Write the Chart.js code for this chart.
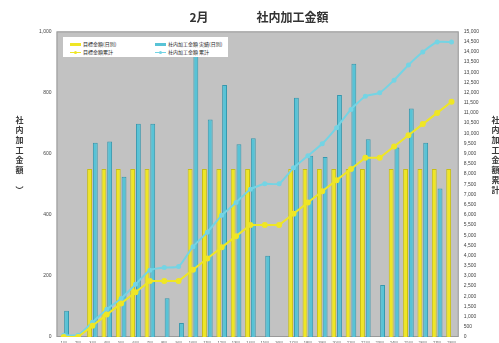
<!DOCTYPE html>
<html>
<head>
<meta charset="utf-8">
<script src="https://cdn.jsdelivr.net/npm/chart.js@4/dist/chart.umd.min.js"></script>
<style>
  html, body { margin: 0; padding: 0; background: #fff; }
  #wrap { position: relative; width: 499px; height: 343px; overflow: hidden; font-family: "Noto Sans CJK JP", sans-serif; }
  #chart { position: absolute; left: 0; top: 0; }
  .vtitle { position: absolute; writing-mode: vertical-rl; font-size: 8px; font-weight: bold; color: #3a3a3a; letter-spacing: 2px; }
  #legend { position: absolute; left: 63px; top: 37px; width: 165px; height: 20px; background: #fff; font-size: 5px; color: #222; }
  #legend .item { position: absolute; white-space: nowrap; line-height: 6px; }
  #legend .sw { display: inline-block; width: 11px; height: 3px; vertical-align: middle; margin-right: 2px; position: relative; }
  #legend .ln { height: 1px; }
  #legend .ln i { position: absolute; left: 4px; top: -1px; width: 3px; height: 3px; border-radius: 50%; }
</style>
</head>
<body>
<div id="wrap">
  <canvas id="chart" width="499" height="343"></canvas>
  <div class="vtitle" style="left: 14px; top: 116px;">社内加工金額　）</div>
  <div class="vtitle" style="left: 490px; top: 116px;">社内加工金額累計</div>
  <div id="legend"></div>
</div>
<script>
const days = ['1日', '2日', '3日', '4日', '5日', '6日', '7日', '8日', '9日', '10日', '11日', '12日', '13日', '14日',
  '15日', '16日', '17日', '18日', '19日', '20日', '21日', '22日', '23日', '24日', '25日', '26日', '27日', '28日'];

// 目標金額(日別)
const target_daily = [0, 0, 550, 550, 550, 550, 550, 0, 0, 550, 550, 550, 550, 550,
  0, 0, 550, 550, 550, 550, 550, 550, 0, 550, 550, 550, 550, 550];

// 社内加工金額 実績(日別)
const actual_daily = [86, 0, 636, 640, 524, 698, 698, 127, 46, 980, 712, 825, 631, 650,
  266, 0, 783, 593, 589, 792, 894, 647, 170, 620, 748, 636, 486, 0];

// 目標金額累計
const target_total = [0, 0, 550, 1100, 1650, 2200, 2750, 2750, 2750, 3300, 3850, 4400, 4950, 5500,
  5500, 5500, 6050, 6600, 7150, 7700, 8250, 8800, 8800, 9350, 9900, 10450, 11000, 11550];

// 社内加工金額 累計
const actual_total = [86, 86, 722, 1362, 1886, 2584, 3282, 3409, 3455, 4435, 5147, 5972, 6603, 7253,
  7519, 7519, 8302, 8895, 9484, 10276, 11170, 11817, 11987, 12607, 13355, 13991, 14477, 14477];

const yellow = '#efe625';
const yellow_edge = '#c8bf14';
const cyan = '#58c3d6';
const cyan_edge = '#3798ae';
const cyan_line = '#74d4e4';

// gray plot background
const plotBg = {
  id: 'plotBg',
  beforeDraw: (chart) => {
    const { ctx, chartArea: a } = chart;
    ctx.save();
    ctx.fillStyle = '#c2c2c2';
    ctx.fillRect(a.left, a.top, a.right - a.left, a.bottom - a.top);
    ctx.strokeStyle = '#9a9a9a';
    ctx.lineWidth = 1;
    ctx.strokeRect(a.left + 0.5, a.top + 0.5, a.right - a.left - 1, a.bottom - a.top - 1);
    ctx.restore();
  }
};

const config = {
  type: 'bar',
  data: {
    labels: days,
    datasets: [
      {
        type: 'line',
        label: '目標金額累計',
        data: target_total,
        yAxisID: 'y2',
        borderColor: yellow,
        backgroundColor: yellow,
        borderWidth: 2,
        pointRadius: 2,
        tension: 0,
        order: 0
      },
      {
        type: 'line',
        label: '社内加工金額 累計',
        data: actual_total,
        yAxisID: 'y2',
        borderColor: cyan_line,
        backgroundColor: cyan_line,
        borderWidth: 2,
        pointRadius: 1.5,
        tension: 0.15,
        order: 0
      },
      {
        label: '目標金額(日別)',
        data: target_daily,
        yAxisID: 'y',
        backgroundColor: yellow,
        borderColor: yellow_edge,
        borderWidth: 1,
        categoryPercentage: 0.8,
        barPercentage: 0.85,
        order: 1
      },
      {
        label: '社内加工金額 実績(日別)',
        data: actual_daily,
        yAxisID: 'y',
        backgroundColor: cyan,
        borderColor: cyan_edge,
        borderWidth: 1,
        categoryPercentage: 0.8,
        barPercentage: 0.85,
        order: 1
      }
    ]
  },
  options: {
    responsive: false,
    animation: false,
    layout: {
      padding: { left: 37, right: 18, top: 0, bottom: -6 }
    },
    plugins: {
      legend: { display: false },
      tooltip: { enabled: false },
      title: {
        display: true,
        text: '2月　　　　社内加工金額',
        color: '#333',
        font: { size: 12, weight: 'bold', family: '"Noto Sans CJK JP", sans-serif' },
        padding: { top: 10, bottom: 7 }
      }
    },
    scales: {
      x: {
        grid: { display: false, tickLength: 2 },
        border: { display: false },
        ticks: { font: { size: 4 }, color: '#555', padding: 1, maxRotation: 0, autoSkip: false }
      },
      y: {
        position: 'left',
        min: 0,
        max: 1000,
        grid: { display: false, tickLength: 3 },
        border: { display: false },
        ticks: { stepSize: 200, font: { size: 5 }, color: '#444', padding: 2 }
      },
      y2: {
        position: 'right',
        min: 0,
        max: 15000,
        grid: { display: false, tickLength: 3 },
        border: { display: false },
        ticks: { stepSize: 500, font: { size: 5 }, color: '#444', padding: 2, autoSkip: false }
      }
    }
  },
  plugins: [plotBg]
};

const chart = new Chart(document.getElementById('chart'), config);

// legend inside the plot, drawn over the bars
const legend_items = [
  { text: '目標金額(日別)', color: yellow, kind: 'bar', x: 7, y: 4 },
  { text: '社内加工金額 実績(日別)', color: cyan, kind: 'bar', x: 92, y: 4 },
  { text: '目標金額累計', color: yellow, kind: 'line', x: 7, y: 12 },
  { text: '社内加工金額 累計', color: cyan_line, kind: 'line', x: 92, y: 12 }
];
const legend = document.getElementById('legend');
legend_items.forEach((it) => {
  const d = document.createElement('div');
  d.className = 'item';
  d.style.left = it.x + 'px';
  d.style.top = it.y + 'px';
  const sw = document.createElement('span');
  sw.className = 'sw' + (it.kind === 'line' ? ' ln' : '');
  sw.style.background = it.color;
  if (it.kind === 'line') {
    const dot = document.createElement('i');
    dot.style.background = it.color;
    sw.appendChild(dot);
  }
  d.appendChild(sw);
  d.appendChild(document.createTextNode(it.text));
  legend.appendChild(d);
});
</script>
</body>
</html>
